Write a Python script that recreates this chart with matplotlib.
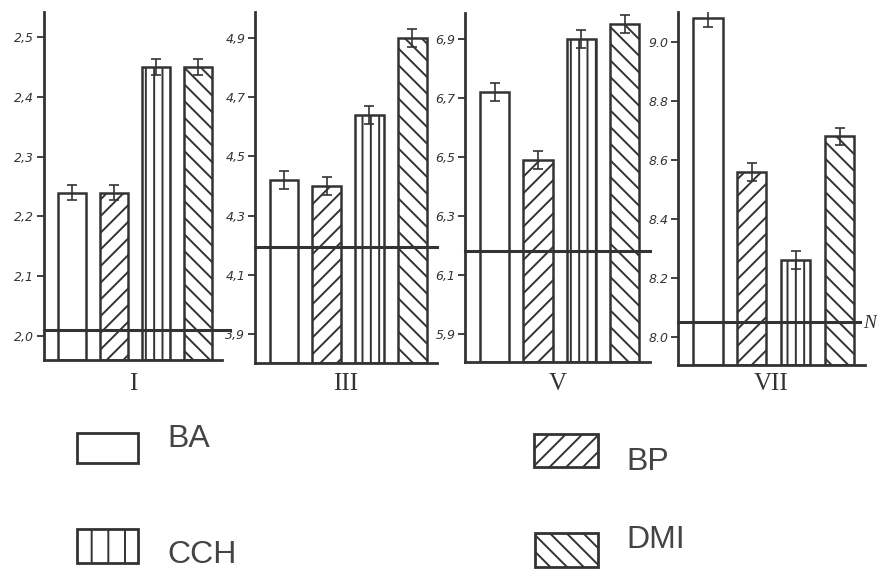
import matplotlib
matplotlib.use("Agg")
import matplotlib.pyplot as plt
from matplotlib.patches import Rectangle

W, H, DPI = 878, 570, 100
INK = "#333333"

# Groups and months
groups = ["BA", "BP", "CCH", "DMI"]
months = ["I", "III", "V", "VII"]
hatches = ["", "//", "||", "\\\\"]
legend_hatches = ["", "//", "|", "\\\\"]

# Mean values per month (BA, BP, CCH, DMI)
values_I = [2.24, 2.24, 2.45, 2.45]
values_III = [4.42, 4.40, 4.64, 4.90]
values_V = [6.72, 6.49, 6.90, 6.95]
values_VII = [9.08, 8.56, 8.26, 8.68]

# Error half-widths
errors_I = [0.013, 0.013, 0.013, 0.013]
errors_III = [0.03, 0.03, 0.03, 0.03]
errors_V = [0.03, 0.03, 0.03, 0.03]
errors_VII = [0.03, 0.03, 0.03, 0.03]

# Reference (norm) level per month
norm_I = 2.01
norm_III = 4.195
norm_V = 6.18
norm_VII = 8.05

# Y ticks and their labels
ticks_I = [2.0, 2.1, 2.2, 2.3, 2.4, 2.5]
ticks_III = [3.9, 4.1, 4.3, 4.5, 4.7, 4.9]
ticks_V = [5.9, 6.1, 6.3, 6.5, 6.7, 6.9]
ticks_VII = [8.0, 8.2, 8.4, 8.6, 8.8, 9.0]
labels_I = ["2,0", "2,1", "2,2", "2,3", "2,4", "2,5"]
labels_III = ["3,9", "4,1", "4,3", "4,5", "4,7", "4,9"]
labels_V = ["5,9", "6,1", "6,3", "6,5", "6,7", "6,9"]
labels_VII = ["8.0", "8.2", "8.4", "8.6", "8.8", "9.0"]

panels = [
    # values, errors, norm, ticks, labels, (left, right, top, bottom px), ylim, line end px
    (values_I, errors_I, norm_I, ticks_I, labels_I, (44, 222, 12, 360), (1.960, 2.542), 230),
    (values_III, errors_III, norm_III, ticks_III, labels_III, (255, 437, 12, 363), (3.802, 4.988), 437),
    (values_V, errors_V, norm_V, ticks_V, labels_V, (465, 650, 13, 362), (5.805, 6.988), 650),
    (values_VII, errors_VII, norm_VII, ticks_VII, labels_VII, (678, 865, 12, 365), (7.905, 9.102), 860),
]

plt.rcParams["hatch.linewidth"] = 1.4
plt.rcParams["hatch.color"] = INK

fig = plt.figure(figsize=(W / DPI, H / DPI), dpi=DPI)
fig.patch.set_facecolor("white")


def px_box(l, r, t, b):
    return [l / W, 1 - b / H, (r - l) / W, (b - t) / H]


x = [0, 1, 2, 3]
bar_w = 0.67
xlo, xhi = -0.68, 3.58

for (vals, errs, norm, ticks, tlabels, (l, r, t, b), (ymin, ymax), line_end), month in zip(panels, months):
    ax = fig.add_axes(px_box(l, r, t, b))
    ax.set_xlim(xlo, xhi)
    ax.set_ylim(ymin, ymax)
    heights = [v - ymin for v in vals]
    for xi, h, hatch in zip(x, heights, hatches):
        ax.bar(xi, h, bottom=ymin, width=bar_w, color="white", edgecolor=INK,
               linewidth=1.8, hatch=hatch, zorder=2)
    ax.errorbar(x, vals, yerr=errs, fmt="none", ecolor=INK, elinewidth=1.2,
                capsize=3.5, capthick=1.2, zorder=4)
    ax.axhline(norm, xmin=0, xmax=(line_end - l) / (r - l), color=INK,
               linewidth=2.2, zorder=3, clip_on=False)
    ax.set_xticks([])
    ax.set_yticks(ticks)
    ax.set_yticklabels(tlabels, fontstyle="italic", fontsize=9, color=INK)
    ax.tick_params(axis="y", direction="out", length=5, width=1.3, pad=2, colors=INK)
    for side in ("top", "right"):
        ax.spines[side].set_visible(False)
    for side in ("left", "bottom"):
        ax.spines[side].set_linewidth(2.0)
        ax.spines[side].set_color(INK)
    fig.text(((l + r) / 2) / W, 1 - 384 / H, month, family="Liberation Serif",
             fontsize=18, color=INK, ha="center", va="center")

# Norm marker at the end of the last reference line
fig.text(863 / W, 1 - 324 / H, "N", family="Liberation Serif", fontstyle="italic",
         fontsize=14, color=INK, ha="left", va="center")

# Legend keys
legend_items = [
    # label, hatch, box (l, t, r, b) px, text x px, text baseline px
    (groups[0], legend_hatches[0], (77, 433, 138, 463), 167, 447),
    (groups[1], legend_hatches[1], (534, 434, 598, 467), 626, 470),
    (groups[2], legend_hatches[2], (77, 529, 138, 563), 167, 563),
    (groups[3], legend_hatches[3], (535, 533, 598, 567), 626, 548),
]
for label, hatch, (bl, bt, br, bb), tx, ty in legend_items:
    rect = Rectangle((bl / W, 1 - bb / H), (br - bl) / W, (bb - bt) / H,
                     transform=fig.transFigure, facecolor="white", edgecolor=INK,
                     linewidth=2.0, hatch=hatch)
    fig.add_artist(rect)
    fig.text(tx / W, 1 - ty / H, label, family="Liberation Sans", fontsize=23,
             color="#444444", ha="left", va="baseline")

fig.savefig("out.png", dpi=DPI, facecolor="white")
